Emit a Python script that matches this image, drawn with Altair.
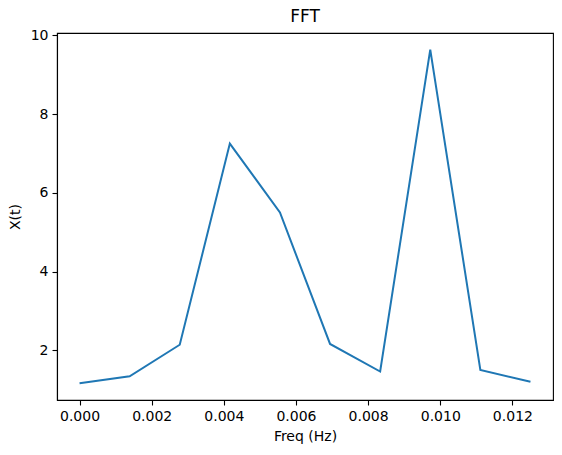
import altair as alt
import pandas as pd

freq = [0.0, 1/720, 2/720, 3/720, 4/720, 5/720, 6/720, 7/720, 8/720, 9/720]
amp = [1.16, 1.34, 2.14, 7.25, 5.50, 2.16, 1.46, 9.64, 1.50, 1.20]
x_ticks = [0.0, 0.002, 0.004, 0.006, 0.008, 0.010, 0.012]
y_ticks = [2, 4, 6, 8, 10]

df = pd.DataFrame({"freq": freq, "amp": amp})

font = "DejaVu Sans"

chart = alt.Chart(df).mark_line(color="#1f77b4", strokeWidth=2).encode(
    x=alt.X("freq:Q",
            scale=alt.Scale(domain=[-0.000625, 0.013125], nice=False, zero=False),
            axis=alt.Axis(values=x_ticks, format=".3f", title="Freq (Hz)",
                          titlePadding=6, labelPadding=4)),
    y=alt.Y("amp:Q",
            scale=alt.Scale(domain=[0.736, 10.06], nice=False, zero=False),
            axis=alt.Axis(values=y_ticks, format="d", title="X(t)",
                          titlePadding=8, labelPadding=4)),
).properties(
    width=496, height=367,
    title=alt.TitleParams("FFT", fontSize=17, fontWeight="normal", font=font,
                          color="black", anchor="middle", offset=2),
    autosize=alt.AutoSizeParams(type="none"),
    padding={"left": 57, "top": 33, "right": 9, "bottom": 55},
).configure_view(
    stroke="black", strokeWidth=1.1
).configure_axis(
    grid=False, domainColor="black", tickColor="black", tickSize=5,
    labelFont=font, titleFont=font, labelFontSize=14, titleFontSize=14,
    labelColor="black", titleColor="black", titleFontWeight="normal",
    domainWidth=1.1, tickWidth=1.1
)

chart.save("out.html", embed_options={"renderer": "svg", "actions": False})
